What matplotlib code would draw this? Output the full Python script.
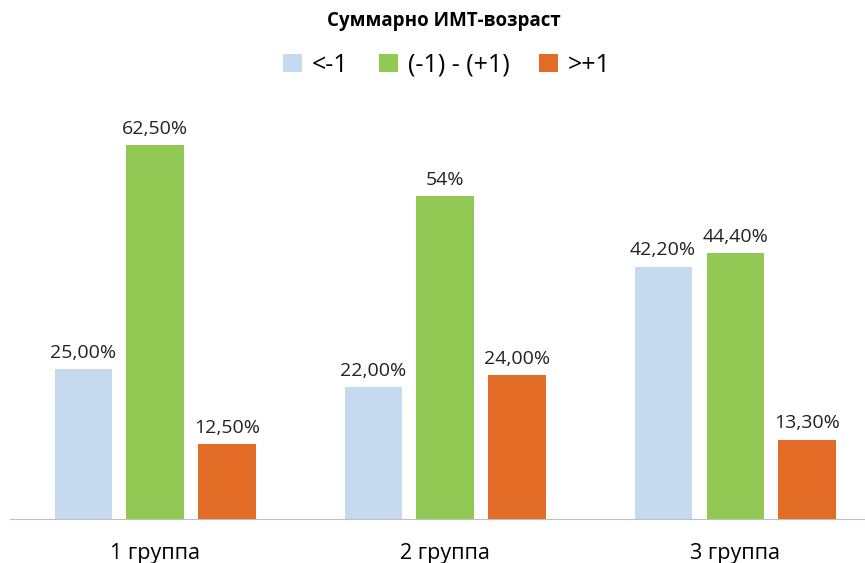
import matplotlib.pyplot as plt
import numpy as np

groups = ['1 группа', '2 группа', '3 группа']
series = ['<-1', '(-1) - (+1)', '>+1']
low = [25.0, 22.0, 42.2]
mid = [62.5, 54.0, 44.4]
high = [12.5, 24.0, 13.3]
labels = [['25,00%', '22,00%', '42,20%'],
          ['62,50%', '54%', '44,40%'],
          ['12,50%', '24,00%', '13,30%']]
colors = ['#C5D9EF', '#92C954', '#E36C27']

plt.rcParams['font.family'] = ['Open Sans', 'DejaVu Sans']

fig = plt.figure(figsize=(8.65, 5.63), dpi=100)
ax = fig.add_axes([0.0116, 0.078, 0.9884, 0.744])

x = np.arange(len(groups))
w = 0.197
off = 0.248
for i, vals in enumerate([low, mid, high]):
    bars = ax.bar(x + (i - 1) * off, vals, w, color=colors[i], label=series[i])
    for b, t in zip(bars, labels[i]):
        ax.text(b.get_x() + b.get_width() / 2, b.get_height() + 1.2, t,
                ha='center', va='bottom', fontsize=14, color='#222222')

ax.set_xlim(-0.5, 2.448)
ax.set_ylim(0, 70)
ax.set_yticks([])
ax.set_xticks(x)
ax.set_xticklabels(groups, fontsize=15.5)
ax.tick_params(axis='x', length=0, pad=17)
for s in ['top', 'right', 'left']:
    ax.spines[s].set_visible(False)
ax.spines['bottom'].set_color('#BFBFBF')

fig.text(0.513, 0.963, 'Суммарно ИМТ-возраст', ha='center', va='center',
         fontsize=13.5, fontweight='bold')
fig.legend(loc='center', bbox_to_anchor=(0.517, 0.884), ncol=3, frameon=False,
           fontsize=18, handlelength=0.75, handleheight=0.75, handletextpad=0.4,
           columnspacing=1.2)

fig.savefig('out.png', dpi=100)
